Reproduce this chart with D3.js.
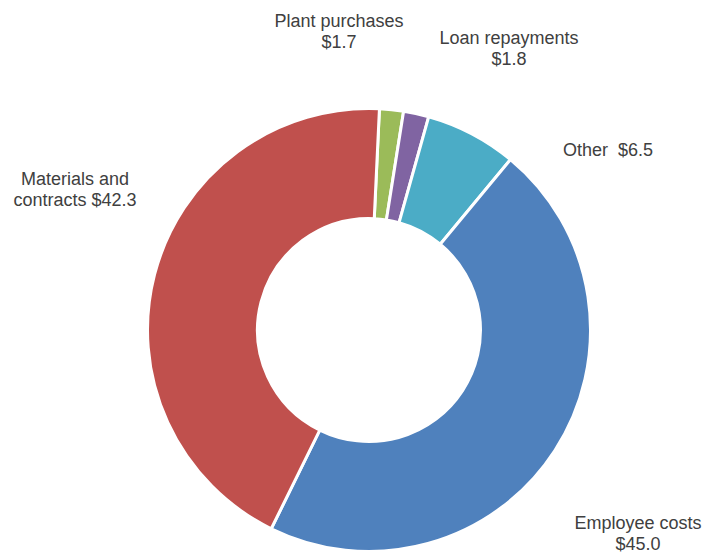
<!DOCTYPE html>
<html>
<head>
<meta charset="utf-8">
<script src="https://cdn.jsdelivr.net/npm/d3@7"></script>
<style>
  html, body { margin: 0; padding: 0; background: #ffffff; }
  svg { display: block; }
  text { font-family: "Liberation Sans", Arial, sans-serif; }
</style>
</head>
<body>
<svg id="chart" width="705" height="553"></svg>
<script>
// ---- Data ----
const categories = ["Plant purchases", "Loan repayments", "Other", "Employee costs", "Materials and contracts"];
const values = [1.7, 1.8, 6.5, 45.0, 42.3];
const colors = ["#9BBB59", "#8064A2", "#4BACC6", "#4F81BD", "#C0504D"];

// label layout (lines, anchor centre x, first baseline y)
const labelLines = [
  ["Plant purchases", "$1.7"],
  ["Loan repayments", "$1.8"],
  ["Other  $6.5"],
  ["Employee costs", "$45.0"],
  ["Materials and", "contracts $42.3"]
];
const labelX = [339, 509, 608, 638, 75];
const labelY = [27, 43.5, 156, 529, 184.5];

// ---- Chart ----
const svg = d3.select("#chart");
const cx = 369, cy = 330;
const outerR = 221.5, innerR = 111.5;
const start = 2.7 * Math.PI / 180;

const data = categories.map((c, i) => ({ name: c, value: values[i], color: colors[i], i }));

const pie = d3.pie()
  .value(d => d.value)
  .sort(null)
  .startAngle(start)
  .endAngle(start + 2 * Math.PI);

const arc = d3.arc().innerRadius(innerR).outerRadius(outerR);

const g = svg.append("g").attr("transform", `translate(${cx},${cy})`);
g.selectAll("path")
  .data(pie(data))
  .join("path")
  .attr("d", arc)
  .attr("fill", d => d.data.color)
  .attr("stroke", "#ffffff")
  .attr("stroke-width", 3)
  .attr("stroke-linejoin", "miter");

// labels
const lineH = 21;
const lbl = svg.append("g");
data.forEach((d, i) => {
  const t = lbl.append("text")
    .attr("x", labelX[i])
    .attr("y", labelY[i])
    .attr("text-anchor", "middle")
    .attr("font-size", 18)
    .attr("fill", "#404040");
  labelLines[i].forEach((line, k) => {
    t.append("tspan")
      .attr("x", labelX[i])
      .attr("dy", k === 0 ? 0 : lineH)
      .attr("xml:space", "preserve")
      .style("white-space", "pre")
      .text(line);
  });
});
</script>
</body>
</html>
